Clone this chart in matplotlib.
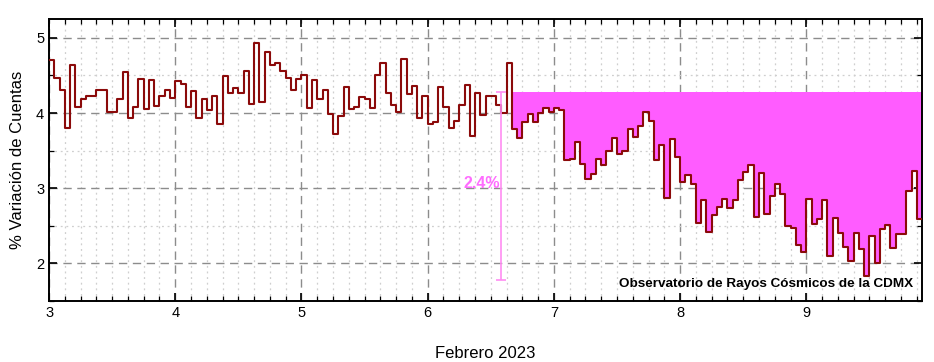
import numpy as np
import matplotlib
matplotlib.use("Agg")
import matplotlib.pyplot as plt
from matplotlib.ticker import MultipleLocator

plt.rcParams['font.family'] = ['Liberation Sans', 'DejaVu Sans']

# ============================
# Data: hourly % count variation, Feb 3-9 2023
# ============================
feb3 = [4.70, 4.47, 4.30, 3.80, 4.64, 4.08, 4.19, 4.23, 4.23, 4.30, 4.30, 4.01,
        4.02, 4.19, 4.54, 3.93, 4.08, 4.45, 4.05, 4.44, 4.09, 4.22, 4.31, 4.20]
feb4 = [4.43, 4.38, 4.08, 4.29, 3.94, 4.19, 4.04, 4.23, 3.85, 4.49, 4.26, 4.33,
        4.26, 4.56, 4.12, 4.93, 4.14, 4.81, 4.64, 4.66, 4.56, 4.47, 4.30, 4.45]
feb5 = [4.50, 4.06, 4.44, 4.19, 4.30, 3.99, 3.72, 3.96, 4.34, 4.05, 4.08, 4.21,
        4.19, 4.07, 4.51, 4.67, 4.27, 4.10, 4.02, 4.72, 4.25, 4.36, 3.93, 4.22]
feb6 = [3.85, 3.88, 4.34, 4.08, 3.80, 3.90, 4.10, 4.37, 3.69, 4.26, 3.98, 4.22,
        4.22, 4.10, 4.00, 4.66, 3.79, 3.67, 3.88, 3.99, 3.88, 4.00, 4.07, 4.02]
feb7 = [4.06, 4.04, 3.37, 3.39, 3.61, 3.32, 3.12, 3.19, 3.39, 3.31, 3.50, 3.67,
        3.46, 3.50, 3.79, 3.68, 3.83, 4.01, 3.89, 3.37, 3.57, 2.87, 3.65, 3.41]
feb8 = [3.08, 3.18, 3.06, 2.54, 2.84, 2.42, 2.64, 2.75, 2.85, 2.74, 2.84, 3.11,
        3.22, 3.31, 2.62, 3.20, 2.66, 2.90, 3.06, 2.92, 2.50, 2.47, 2.24, 2.15]
feb9 = [2.85, 2.53, 2.59, 2.84, 2.10, 2.61, 2.41, 2.22, 2.03, 2.40, 2.19, 1.83,
        2.36, 2.01, 2.46, 2.51, 2.21, 2.39, 2.39, 2.96, 3.23, 2.59]

start_day = 3
fill_start = 6 + 16 / 24      # onset of the decrease
pre_level = 4.28              # level before the decrease
err_x = 6.58
err_low, err_high = 1.78, 4.28
err_label = "2.4%"

values = np.array(feb3 + feb4 + feb5 + feb6 + feb7 + feb8 + feb9)
t = start_day + np.arange(len(values)) / 24
t_edges = np.append(t, t[-1] + 1 / 24)
v_edges = np.append(values, values[-1])

# ============================
# Plot
# ============================
fig = plt.figure(figsize=(9.34, 3.62), dpi=100)
ax = fig.add_axes([0.0525, 0.1685, 0.9347, 0.779])

mask = t_edges >= fill_start - 1e-9
ax.fill_between(t_edges[mask], v_edges[mask], pre_level, step="post",
                color="#ff5cff", linewidth=0, zorder=2)
ax.step(t_edges, v_edges, where="post", color="#8b0a0a", linewidth=1.5, zorder=3)

ax.errorbar(err_x, (err_low + err_high) / 2, yerr=(err_high - err_low) / 2,
            color="#ff8cf2", linewidth=1.2, capsize=3.5, capthick=1.2, zorder=3)
ax.text(err_x - 0.01, 3.06, err_label, color="#ff6cff", fontsize=11.5,
        fontweight="bold", ha="right", va="center", zorder=4)

ax.text(0.99, 0.06, "Observatorio de Rayos Cósmicos de la CDMX",
        transform=ax.transAxes, ha="right", va="center",
        fontsize=9.7, fontweight="bold", zorder=4)

ax.set_xlim(3, t_edges[-1])
ax.set_ylim(1.5, 5.25)
ax.xaxis.set_major_locator(MultipleLocator(1))
ax.xaxis.set_minor_locator(MultipleLocator(1 / 8))
ax.yaxis.set_major_locator(MultipleLocator(1))
ax.yaxis.set_minor_locator(MultipleLocator(0.5))

ax.grid(which="major", color="#8c8c8c", linestyle=(0, (6, 4)), linewidth=1.0, zorder=1)
ax.grid(which="minor", color="#cfcfcf", linestyle=(0, (1.5, 3)), linewidth=0.9, zorder=1)
ax.set_axisbelow(True)

ax.tick_params(which="both", direction="in", top=True, right=True, labelsize=10.5)
ax.tick_params(which="major", length=6, width=1.2)
ax.tick_params(which="minor", length=3.5, width=0.9)
for s in ax.spines.values():
    s.set_linewidth(1.4)

ax.set_xlabel("Febrero 2023", fontsize=12, labelpad=19)
ax.set_ylabel("% Variación de Cuentas", fontsize=12, labelpad=8)

fig.savefig("out.png", dpi=100)
